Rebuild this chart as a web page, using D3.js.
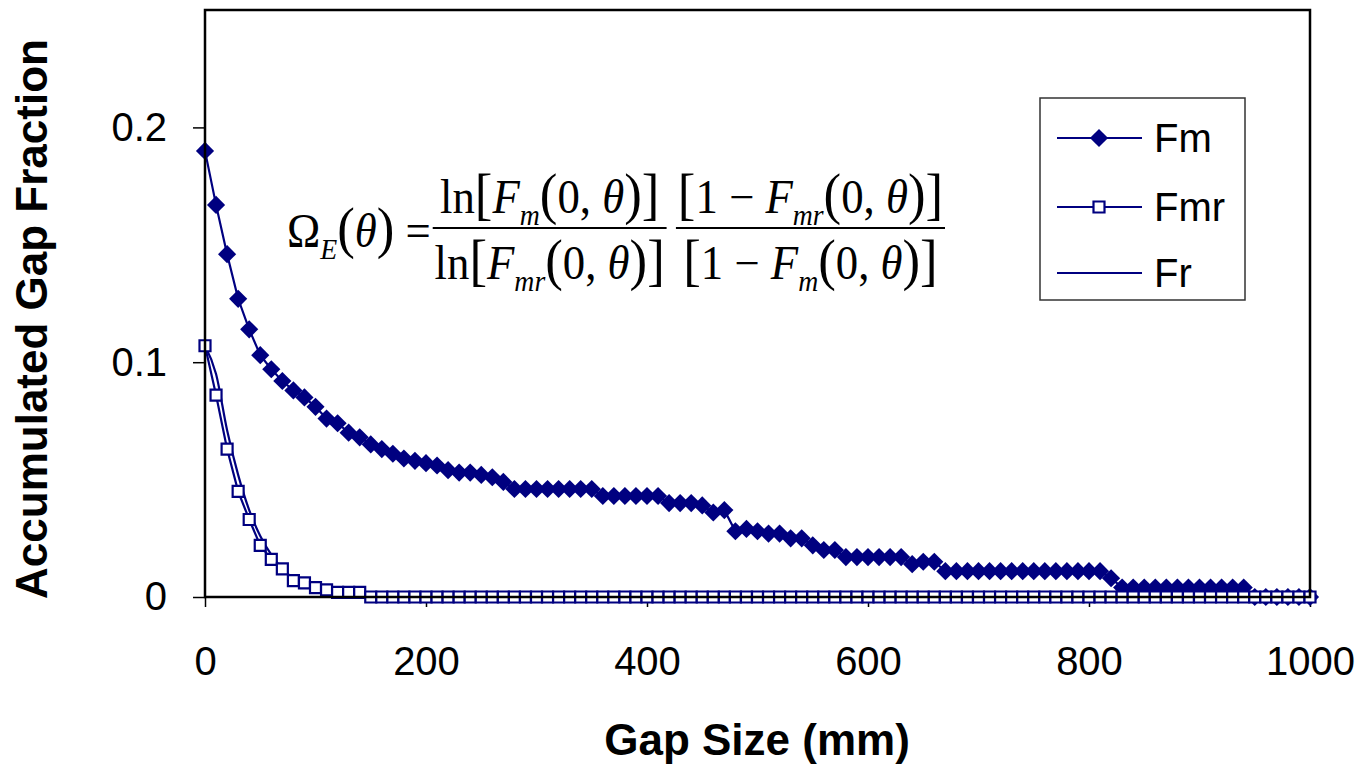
<!DOCTYPE html>
<html>
<head>
<meta charset="utf-8">
<script src="https://cdn.jsdelivr.net/npm/d3@7"></script>
<style>
body { margin: 0; background: #fff; }
</style>
</head>
<body>
<svg id="chart" width="1362" height="764"></svg>
<script>
// gap sizes (mm) and accumulated gap fractions
var gapSize = [0,10,20,30,40,50,60,70,80,90,100,110,120,130,140,150,160,170,180,190,
  200,210,220,230,240,250,260,270,280,290,300,310,320,330,340,350,360,370,380,390,
  400,410,420,430,440,450,460,470,480,490,500,510,520,530,540,550,560,570,580,590,
  600,610,620,630,640,650,660,670,680,690,700,710,720,730,740,750,760,770,780,790,
  800,810,820,830,840,850,860,870,880,890,900,910,920,930,940,950,960,970,980,990,1000];

var fm = [0.190,0.167,0.146,0.127,0.114,0.103,0.097,0.092,0.088,0.085,
  0.081,0.076,0.074,0.070,0.068,0.065,0.063,0.061,0.059,0.058,
  0.057,0.056,0.054,0.053,0.053,0.052,0.051,0.049,0.046,0.046,
  0.046,0.046,0.046,0.046,0.046,0.046,0.043,0.043,0.043,0.043,
  0.043,0.043,0.040,0.040,0.040,0.039,0.036,0.037,0.028,0.029,
  0.028,0.027,0.027,0.025,0.025,0.022,0.020,0.020,0.017,0.017,
  0.017,0.017,0.017,0.017,0.014,0.015,0.015,0.011,0.011,0.011,
  0.011,0.011,0.011,0.011,0.011,0.011,0.011,0.011,0.011,0.011,
  0.011,0.011,0.008,0.004,0.004,0.004,0.004,0.004,0.004,0.004,
  0.004,0.004,0.004,0.004,0.004,0,0,0,0,0,0];

var fmr = [0.107,0.086,0.063,0.045,0.033,0.022,0.016,0.012,0.007,0.006,
  0.004,0.003,0.002,0.002,0.002,0,0,0,0,0,
  0,0,0,0,0,0,0,0,0,0,0,0,0,0,0,0,0,0,0,0,
  0,0,0,0,0,0,0,0,0,0,0,0,0,0,0,0,0,0,0,0,
  0,0,0,0,0,0,0,0,0,0,0,0,0,0,0,0,0,0,0,0,
  0,0,0,0,0,0,0,0,0,0,0,0,0,0,0,0,0,0,0,0,0];

var fr = [0.107,0.095,0.071,0.052,0.037,0.026,0.018,0.012,0.008,0.006,
  0.004,0.003,0.002,0.001,0.001,0,0,0,0,0,
  0,0,0,0,0,0,0,0,0,0,0,0,0,0,0,0,0,0,0,0,
  0,0,0,0,0,0,0,0,0,0,0,0,0,0,0,0,0,0,0,0,
  0,0,0,0,0,0,0,0,0,0,0,0,0,0,0,0,0,0,0,0,
  0,0,0,0,0,0,0,0,0,0,0,0,0,0,0,0,0,0,0,0,0];

var xTicks = [0,200,400,600,800,1000];
var yTicks = [0,0.1,0.2];
var seriesNames = ["Fm","Fmr","Fr"];

var navy = "#000080";
var sans = "'Liberation Sans', Arial, sans-serif";
var serif = "'Liberation Serif', 'Times New Roman', serif";

var svg = d3.select("#chart");
svg.append("rect").attr("width",1362).attr("height",764).attr("fill","#fff");

var margin = {left:205, right:52, top:10, bottom:167};
var width = 1362 - margin.left - margin.right;
var height = 764 - margin.top - margin.bottom;

var x = d3.scaleLinear().domain([0,1000]).range([margin.left, margin.left + width]);
var y = d3.scaleLinear().domain([0,0.25]).range([margin.top + height, margin.top]);

// axes
var yAxis = d3.axisLeft(y).tickValues(yTicks).tickSize(12).tickPadding(26)
  .tickFormat(function(d){ return d === 0 ? "0" : d3.format(".1f")(d); });
var xAxis = d3.axisBottom(x).tickValues(xTicks).tickSize(10).tickPadding(40)
  .tickFormat(d3.format("d"));

var gy = svg.append("g").attr("transform","translate(" + margin.left + ",0)").call(yAxis);
var gx = svg.append("g").attr("transform","translate(0," + (margin.top + height) + ")").call(xAxis);
[gx, gy].forEach(function(g){
  g.select(".domain").remove();
  g.selectAll(".tick line").attr("stroke","#000").attr("stroke-width",1.5);
  g.selectAll(".tick text").attr("font-family",sans).attr("font-size",40).attr("fill","#000");
});

// series
var line = d3.line().x(function(d,i){ return x(gapSize[i]); }).y(function(d){ return y(d); });
var plot = svg.append("g");

plot.append("path").datum(fm).attr("d",line)
  .attr("fill","none").attr("stroke",navy).attr("stroke-width",2.2);
var diamond = d3.symbol().type(d3.symbolSquare).size(165);
plot.selectAll(".fm").data(fm).enter().append("path")
  .attr("class","fm")
  .attr("d",diamond)
  .attr("transform",function(d,i){ return "translate(" + x(gapSize[i]) + "," + y(d) + ") rotate(45)"; })
  .attr("fill",navy);

plot.append("path").datum(fr).attr("d",line.curve(d3.curveMonotoneX))
  .attr("fill","none").attr("stroke",navy).attr("stroke-width",2.2);
line.curve(d3.curveLinear);

plot.append("path").datum(fmr).attr("d",line)
  .attr("fill","none").attr("stroke",navy).attr("stroke-width",2.2);
var square = d3.symbol().type(d3.symbolSquare).size(121);
plot.selectAll(".fmr").data(fmr).enter().append("path")
  .attr("class","fmr")
  .attr("d",square)
  .attr("transform",function(d,i){ return "translate(" + x(gapSize[i]) + "," + y(d) + ")"; })
  .attr("fill","#fff").attr("stroke",navy).attr("stroke-width",2.2);

// frame
svg.append("rect").attr("x",margin.left).attr("y",margin.top)
  .attr("width",width).attr("height",height)
  .attr("fill","none").attr("stroke","#000").attr("stroke-width",2.5);

// axis titles
svg.append("text").attr("x",757).attr("y",755).attr("text-anchor","middle")
  .attr("font-family",sans).attr("font-weight","bold").attr("font-size",44)
  .text("Gap Size (mm)");
svg.append("text").attr("transform","translate(47,319) rotate(-90)").attr("text-anchor","middle")
  .attr("font-family",sans).attr("font-weight","bold").attr("font-size",44)
  .text("Accumulated Gap Fraction");

// legend
var leg = svg.append("g");
leg.append("rect").attr("x",1040).attr("y",98).attr("width",205).attr("height",202)
  .attr("fill","#fff").attr("stroke","#333").attr("stroke-width",1.5);
var rowY = [138,207,273];
seriesNames.forEach(function(name,i){
  leg.append("line").attr("x1",1057).attr("x2",1142).attr("y1",rowY[i]).attr("y2",rowY[i])
    .attr("stroke",navy).attr("stroke-width",2.2);
  if (i === 0) {
    leg.append("path").attr("d",diamond).attr("fill",navy)
      .attr("transform","translate(1099," + rowY[i] + ") rotate(45)");
  } else if (i === 1) {
    leg.append("path").attr("d",square).attr("fill","#fff").attr("stroke",navy).attr("stroke-width",2.2)
      .attr("transform","translate(1099," + rowY[i] + ")");
  }
  leg.append("text").attr("x",1154).attr("y",rowY[i]).attr("dy","0.36em")
    .attr("font-family",sans).attr("font-size",40).text(name);
});

// equation
var eqSize = 48;
var eq = svg.append("g");
function mathText(parts, baseY) {
  var t = eq.append("text").attr("y",baseY).attr("font-family",serif).attr("font-size",eqSize);
  var off = 0;
  parts.forEach(function(p){
    var s = t.append("tspan").text(p[0]);
    var want = 0;
    if (p[1] === "i") s.attr("font-style","italic");
    if (p[1] === "sub") { s.attr("font-style","italic").attr("font-size",eqSize*0.62); want = eqSize*0.24; }
    if (p[1] === "b") s.attr("font-size",eqSize*1.18);
    if (want !== off) { s.attr("dy",want - off); off = want; }
  });
  return t;
}
var lhs = mathText([["\u03A9"],["E","sub"],["(","b"],["\u03B8","i"],[")","b"],[" = "]], 247);
var num1 = mathText([["ln"],["[","b"],["F","i"],["m","sub"],["(","b"],["0, "],["\u03B8","i"],[")","b"],["]","b"]], 213);
var den1 = mathText([["ln"],["[","b"],["F","i"],["mr","sub"],["(","b"],["0, "],["\u03B8","i"],[")","b"],["]","b"]], 279);
var num2 = mathText([["[","b"],["1 \u2212 "],["F","i"],["mr","sub"],["(","b"],["0, "],["\u03B8","i"],[")","b"],["]","b"]], 213);
var den2 = mathText([["[","b"],["1 \u2212 "],["F","i"],["m","sub"],["(","b"],["0, "],["\u03B8","i"],[")","b"],["]","b"]], 279);

var wl = lhs.node().getComputedTextLength();
var f1 = Math.max(num1.node().getComputedTextLength(), den1.node().getComputedTextLength());
var f2 = Math.max(num2.node().getComputedTextLength(), den2.node().getComputedTextLength());
var b1 = wl + 2, c1 = b1 + f1/2 + 2;
var b2 = b1 + f1 + 14, c2 = b2 + f2/2 + 2;
var total = b2 + f2 + 4;
[[num1,c1],[den1,c1],[num2,c2],[den2,c2]].forEach(function(p){
  p[0].attr("x",p[1]).attr("text-anchor","middle");
});
lhs.attr("x",0);
eq.append("line").attr("x1",b1).attr("x2",b1+f1+4).attr("y1",228).attr("y2",228)
  .attr("stroke","#000").attr("stroke-width",2);
eq.append("line").attr("x1",b2).attr("x2",b2+f2+4).attr("y1",228).attr("y2",228)
  .attr("stroke","#000").attr("stroke-width",2);
eq.attr("transform","translate(287,0) scale(" + (658/total) + ",1)");
</script>
</body>
</html>
